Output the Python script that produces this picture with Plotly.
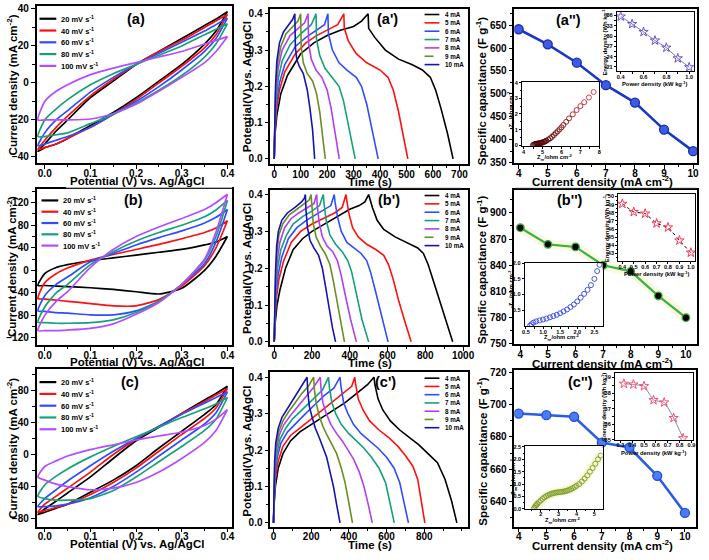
import plotly.graph_objects as go

W, H = 709, 560
FONT = "Liberation Sans"

# ------------------------------------------------------------------ data
SCAN_RATES = ["20", "40", "60", "80", "100"]
CV_COLORS = ["#000000", "#ff1010", "#2f4dff", "#17a07a", "#b44cff"]
E_GRID = [-0.015, 0.0, 0.025, 0.05, 0.1, 0.15, 0.2, 0.25, 0.3, 0.35, 0.375, 0.4]

CV_A_UP = [
    [-37, -33, -26, -20, -8, 1, 10, 17, 24, 31, 34.5, 38.5],
    [-36, -31, -24, -18, -7, 2, 10, 17, 23, 30, 33.5, 37],
    [-34, -27, -20, -15, -5, 3, 10, 16, 22, 28, 31.5, 35],
    [-29, -20, -14, -9, -1, 5, 10, 15, 20, 26, 29, 32],
    [-20, -10, -4.5, -1, 4.5, 8, 11, 14, 17, 21, 23, 25],
]
CV_A_DN = [
    [-37, -35, -33, -30, -23, -16, -8, 1, 10, 21, 28, 38.5],
    [-36, -35, -33, -30, -24, -17, -9, 0, 9, 19, 26, 37],
    [-34, -33, -31, -29, -24, -17, -10, -2, 7, 17, 24, 35],
    [-29, -29, -28, -27, -22, -17, -11, -4, 4, 14, 21, 32],
    [-20, -20, -20, -20, -19.5, -16.5, -11.5, -4.5, 3, 11, 17, 25],
]
CV_B_UP = [
    [-27, -6, 5, 10, 17, 22, 27, 32, 37, 45, 50, 60],
    [-50, -22, -6, 4, 18, 28, 37, 46, 56, 67, 75, 88],
    [-72, -45, -25, -12, 15, 30, 45, 58, 70, 84, 94, 108],
    [-92, -65, -40, -25, 10, 33, 52, 67, 80, 95, 107, 124],
    [-107, -80, -55, -38, 5, 37, 60, 77, 92, 108, 120, 135],
]
CV_B_DN = [
    [-27, -27, -28, -29, -31, -34, -38, -42, -32, 0, 25, 60],
    [-50, -51, -53, -55, -59, -63, -63, -52, -28, 8, 40, 88],
    [-72, -73, -75, -76, -79, -79, -72, -55, -25, 12, 50, 108],
    [-92, -93, -94, -94, -93, -88, -75, -55, -25, 18, 60, 124],
    [-107, -107, -107, -106, -103, -95, -78, -57, -25, 20, 68, 135],
]
CV_C_UP = [
    [-75, -68, -58, -48, -28, -5, 17, 34, 51, 68, 76, 85],
    [-72, -62, -52, -42, -22, 0, 19, 35, 51, 66, 74, 82],
    [-65, -55, -44, -33, -14, 4, 20, 35, 50, 64, 71, 78],
    [-52, -38, -27, -18, -3, 10, 22, 34, 46, 57, 63, 71],
    [-28, -15, -8, -2, 6, 12, 18, 23, 28, 36, 44, 56],
]
CV_C_DN = [
    [-75, -72, -67, -62, -47, -32, -14, 8, 29, 50, 62, 85],
    [-72, -70, -66, -62, -50, -35, -17, 4, 25, 45, 58, 82],
    [-65, -65, -64, -62, -54, -40, -22, -2, 18, 38, 52, 78],
    [-52, -55, -57, -57, -55, -45, -28, -9, 10, 30, 44, 71],
    [-28, -32, -37, -40, -44, -42, -35, -22, -5, 15, 30, 56],
]

CURRENTS = ["4", "5", "6", "7", "8", "9", "10"]
GCD_COLORS = ["#000000", "#ff1010", "#2f4dff", "#15a07a", "#b040f0", "#6b8e23", "#1414b4"]

GCD_A_T = [
    [0, 2, 10, 25, 50, 100, 150, 200, 250, 300, 330, 355, 357, 380, 420, 470, 520, 560, 590, 610, 630, 655, 676],
    [0, 2, 8, 20, 40, 80, 120, 160, 200, 240, 263, 265, 280, 310, 350, 400, 430, 450, 470, 490, 505],
    [0, 2, 8, 20, 40, 80, 120, 160, 190, 203, 205, 220, 245, 275, 310, 330, 350, 370, 393],
    [0, 2, 6, 15, 30, 60, 100, 140, 158, 160, 172, 192, 220, 245, 262, 280, 306],
    [0, 2, 6, 15, 30, 60, 90, 115, 128, 130, 140, 158, 180, 200, 215, 230, 246],
    [0, 2, 5, 12, 25, 45, 70, 90, 100, 102, 110, 125, 145, 160, 172, 182, 193],
    [0, 2, 5, 10, 20, 35, 55, 70, 78, 80, 85, 95, 110, 125, 135, 145, 153],
]
GCD_A_V = [
    [0, 0.06, 0.12, 0.18, 0.23, 0.29, 0.32, 0.34, 0.355, 0.365, 0.38, 0.4, 0.36, 0.335, 0.30, 0.275, 0.26, 0.245, 0.225, 0.19, 0.14, 0.07, 0.0],
    [0, 0.07, 0.13, 0.19, 0.24, 0.29, 0.32, 0.34, 0.355, 0.37, 0.4, 0.36, 0.325, 0.29, 0.265, 0.245, 0.225, 0.19, 0.13, 0.06, 0.0],
    [0, 0.08, 0.15, 0.21, 0.26, 0.31, 0.335, 0.355, 0.37, 0.4, 0.345, 0.3, 0.265, 0.245, 0.225, 0.2, 0.15, 0.08, 0.0],
    [0, 0.08, 0.15, 0.22, 0.27, 0.315, 0.345, 0.37, 0.4, 0.33, 0.285, 0.25, 0.225, 0.2, 0.16, 0.09, 0.0],
    [0, 0.09, 0.17, 0.25, 0.3, 0.34, 0.36, 0.375, 0.4, 0.32, 0.275, 0.245, 0.225, 0.19, 0.14, 0.07, 0.0],
    [0, 0.1, 0.18, 0.26, 0.31, 0.345, 0.365, 0.38, 0.4, 0.31, 0.265, 0.235, 0.215, 0.18, 0.13, 0.07, 0.0],
    [0, 0.11, 0.2, 0.27, 0.32, 0.35, 0.37, 0.385, 0.4, 0.31, 0.275, 0.255, 0.235, 0.19, 0.14, 0.08, 0.0],
]
GCD_B_T = [
    [0, 5, 15, 30, 60, 100, 150, 200, 250, 300, 350, 400, 450, 480, 500, 505, 520, 545, 580, 640, 700, 760, 790, 815, 840, 870, 905, 945],
    [0, 4, 12, 25, 50, 90, 140, 200, 260, 320, 360, 380, 384, 395, 415, 445, 490, 540, 580, 605, 630, 660, 695, 725],
    [0, 4, 10, 20, 40, 75, 120, 170, 220, 270, 300, 318, 322, 335, 355, 385, 420, 460, 490, 510, 540, 570, 603],
    [0, 3, 8, 18, 35, 65, 100, 150, 200, 240, 260, 264, 275, 295, 325, 360, 390, 410, 435, 465, 500],
    [0, 3, 8, 16, 30, 55, 90, 130, 180, 210, 225, 228, 238, 255, 280, 310, 335, 355, 375, 405, 435],
    [0, 3, 7, 14, 25, 45, 80, 120, 160, 185, 195, 198, 207, 222, 245, 270, 295, 315, 335, 355, 372],
    [0, 3, 7, 13, 22, 40, 70, 110, 145, 160, 165, 168, 176, 190, 210, 235, 255, 272, 290, 308, 325],
]
GCD_B_V = [
    [0, 0.05, 0.1, 0.14, 0.2, 0.25, 0.28, 0.3, 0.315, 0.33, 0.345, 0.36, 0.37, 0.38, 0.4, 0.39, 0.365, 0.33, 0.305, 0.285, 0.27, 0.255, 0.24, 0.21, 0.17, 0.12, 0.06, 0.0],
    [0, 0.06, 0.12, 0.17, 0.22, 0.27, 0.3, 0.32, 0.335, 0.35, 0.365, 0.4, 0.385, 0.35, 0.31, 0.285, 0.265, 0.25, 0.235, 0.21, 0.17, 0.11, 0.05, 0.0],
    [0, 0.07, 0.13, 0.18, 0.23, 0.28, 0.31, 0.33, 0.345, 0.36, 0.37, 0.4, 0.38, 0.34, 0.3, 0.27, 0.255, 0.24, 0.22, 0.19, 0.13, 0.07, 0.0],
    [0, 0.07, 0.14, 0.2, 0.25, 0.29, 0.32, 0.34, 0.355, 0.37, 0.4, 0.375, 0.33, 0.29, 0.265, 0.245, 0.22, 0.19, 0.13, 0.06, 0.0],
    [0, 0.08, 0.15, 0.22, 0.27, 0.31, 0.335, 0.35, 0.365, 0.375, 0.4, 0.37, 0.325, 0.285, 0.26, 0.245, 0.22, 0.18, 0.13, 0.06, 0.0],
    [0, 0.09, 0.17, 0.24, 0.29, 0.32, 0.345, 0.36, 0.375, 0.385, 0.4, 0.37, 0.32, 0.285, 0.26, 0.24, 0.21, 0.16, 0.1, 0.04, 0.0],
    [0, 0.1, 0.19, 0.26, 0.3, 0.33, 0.35, 0.365, 0.38, 0.39, 0.4, 0.36, 0.31, 0.275, 0.255, 0.235, 0.2, 0.15, 0.09, 0.04, 0.0],
]
GCD_C_T = [
    [0, 3, 10, 25, 50, 90, 140, 200, 260, 320, 380, 440, 500, 533, 538, 555, 580, 620, 670, 720, 770, 820, 870, 910, 945, 973],
    [0, 3, 10, 25, 50, 90, 140, 200, 260, 320, 380, 415, 431, 436, 450, 475, 510, 560, 610, 660, 700, 740, 765, 785, 803],
    [0, 3, 8, 20, 40, 75, 120, 170, 220, 270, 320, 353, 358, 372, 395, 425, 465, 510, 555, 600, 640, 670, 695, 716],
    [0, 3, 8, 18, 35, 65, 100, 140, 180, 220, 260, 292, 297, 310, 330, 360, 400, 440, 480, 520, 560, 595, 620, 641],
    [0, 3, 7, 15, 30, 55, 90, 130, 170, 210, 248, 252, 262, 280, 305, 335, 365, 395, 425, 455, 480, 503, 524],
    [0, 3, 7, 14, 28, 50, 80, 115, 150, 185, 213, 217, 226, 242, 262, 285, 310, 335, 360, 380, 398, 419],
    [0, 3, 6, 12, 25, 45, 70, 100, 130, 160, 178, 182, 190, 205, 222, 242, 262, 282, 300, 318, 335, 353],
]
GCD_C_V = [
    [0, 0.05, 0.1, 0.15, 0.19, 0.225, 0.25, 0.27, 0.29, 0.31, 0.33, 0.355, 0.38, 0.4, 0.38, 0.34, 0.31, 0.28, 0.255, 0.235, 0.215, 0.19, 0.165, 0.12, 0.06, 0.0],
    [0, 0.06, 0.12, 0.17, 0.21, 0.24, 0.26, 0.285, 0.31, 0.335, 0.36, 0.375, 0.4, 0.38, 0.34, 0.31, 0.28, 0.255, 0.235, 0.21, 0.185, 0.155, 0.12, 0.06, 0.0],
    [0, 0.07, 0.13, 0.18, 0.22, 0.25, 0.275, 0.3, 0.325, 0.35, 0.37, 0.4, 0.375, 0.33, 0.3, 0.27, 0.245, 0.225, 0.205, 0.18, 0.15, 0.11, 0.05, 0.0],
    [0, 0.08, 0.14, 0.19, 0.23, 0.26, 0.285, 0.305, 0.325, 0.345, 0.365, 0.4, 0.37, 0.33, 0.3, 0.27, 0.245, 0.225, 0.205, 0.18, 0.15, 0.11, 0.05, 0.0],
    [0, 0.08, 0.15, 0.2, 0.24, 0.27, 0.295, 0.32, 0.345, 0.37, 0.4, 0.37, 0.33, 0.3, 0.27, 0.245, 0.225, 0.2, 0.175, 0.14, 0.1, 0.05, 0.0],
    [0, 0.09, 0.16, 0.21, 0.25, 0.28, 0.305, 0.33, 0.355, 0.375, 0.4, 0.365, 0.33, 0.295, 0.265, 0.24, 0.215, 0.19, 0.15, 0.11, 0.06, 0.0],
    [0, 0.1, 0.17, 0.22, 0.26, 0.29, 0.31, 0.335, 0.36, 0.385, 0.4, 0.36, 0.32, 0.29, 0.26, 0.235, 0.21, 0.18, 0.14, 0.1, 0.05, 0.0],
]

CURRENT_DENSITY = [4, 5, 6, 7, 8, 9, 10]
CAP_A = [641, 608, 568, 519, 481, 422, 375]
CAP_B = [883, 864, 861, 840, 833, 805, 780]
CAP_C = [694.5, 693.5, 692.5, 676.5, 673.5, 656, 633]

POWER_A = [0.4, 0.5, 0.6, 0.7, 0.8, 0.9, 1.0]
ENERGY_A = [35.7, 33.5, 31.2, 28.7, 26.6, 23.5, 20.9]
POWER_B = [0.4, 0.5, 0.6, 0.7, 0.8, 0.9, 1.0]
ENERGY_B = [49.1, 48.1, 47.9, 46.7, 46.2, 44.6, 43.1]
POWER_C = [0.33, 0.41, 0.5, 0.58, 0.67, 0.75, 0.83]
ENERGY_C = [38.6, 38.55, 38.45, 37.55, 37.4, 36.4, 35.1]

ZRE_A = [4.5, 4.55, 4.6, 4.65, 4.7, 4.75, 4.8, 4.85, 4.9, 4.95, 5.0, 5.05, 5.1, 5.15, 5.2, 5.3, 5.4, 5.5, 5.6,
         5.7, 5.8, 5.9, 6.0, 6.1, 6.25, 6.4, 6.6, 6.8, 7.0, 7.2, 7.45, 7.7]
ZIM_A = [0.03, 0.06, 0.08, 0.1, 0.11, 0.12, 0.13, 0.14, 0.15, 0.17, 0.19, 0.21, 0.24, 0.27, 0.3, 0.37, 0.45, 0.55,
         0.66, 0.78, 0.9, 1.02, 1.15, 1.3, 1.5, 1.72, 1.98, 2.25, 2.5, 2.75, 3.05, 3.4]
ZRE_B = [0.62, 0.66, 0.72, 0.8, 0.9, 1.0, 1.1, 1.2, 1.3, 1.4, 1.5, 1.6, 1.7, 1.8, 1.9, 2.0, 2.1, 2.2, 2.3, 2.4,
         2.5, 2.58, 2.65]
ZIM_B = [0.0, 0.05, 0.1, 0.14, 0.17, 0.2, 0.23, 0.27, 0.31, 0.35, 0.4, 0.46, 0.52, 0.6, 0.68, 0.78, 0.9, 1.02,
         1.15, 1.3, 1.5, 1.75, 1.95]
ZRE_C = [1.6, 1.65, 1.7, 1.75, 1.8, 1.9, 2.0, 2.1, 2.2, 2.3, 2.4, 2.5, 2.6, 2.7, 2.8, 2.9, 3.0, 3.1, 3.2, 3.3,
         3.4, 3.5, 3.6, 3.7, 3.8, 3.9, 4.0, 4.15, 4.3, 4.45, 4.6, 4.75, 4.9, 5.05, 5.2, 5.35]
ZIM_C = [0.0, 0.05, 0.1, 0.15, 0.2, 0.27, 0.34, 0.4, 0.46, 0.51, 0.55, 0.58, 0.61, 0.63, 0.65, 0.66, 0.67, 0.68,
         0.69, 0.7, 0.72, 0.74, 0.77, 0.8, 0.84, 0.88, 0.93, 1.0, 1.1, 1.22, 1.35, 1.5, 1.65, 1.82, 2.0, 2.15]

# ------------------------------------------------------------------ helpers
fig = go.Figure()
AX = {}
SHAPES = []
ANNS = []


def rng(pa, va, pb, vb, e0, e1):
    k = (vb - va) / (pb - pa)
    return [va + (e0 - pa) * k, va + (e1 - pa) * k]


def tk(dtick=None, minor=None, tick0=0, vals=None, fmt=None, small=False):
    d = {}
    if vals is not None:
        d["tickvals"] = vals
    else:
        d["tick0"] = tick0
        d["dtick"] = dtick
    if fmt:
        d["tickformat"] = fmt
    if minor is not None:
        d["minor"] = dict(dtick=minor, tick0=tick0, ticks="outside", ticklen=1.5 if small else 2.5,
                          tickcolor="black", tickwidth=0.8 if small else 1.1)
    return d


def make_axes(i, xbox, ybox, xcal, ycal, xt, yt, small=False):
    s = "" if i == 1 else str(i)
    fs = 5.6 if small else 10
    lw = 0.9 if small else 1.5
    tl = 2 if small else 4
    base = dict(showline=True, mirror=True, linecolor="black", linewidth=lw,
                ticks="outside", ticklen=tl, tickwidth=lw * 0.8, tickcolor="black",
                showgrid=False, zeroline=False, fixedrange=True,
                tickfont=dict(family=FONT, size=fs, color="black", weight="bold"))
    xa = dict(base, domain=[xbox[0] / W, xbox[1] / W], range=rng(*xcal, xbox[0], xbox[1]),
              anchor="y" + s, ticklabelstandoff=(-2 if small else -4), **xt)
    ya = dict(base, domain=[1 - ybox[1] / H, 1 - ybox[0] / H], range=rng(*ycal, ybox[1], ybox[0]),
              anchor="x" + s, **yt)
    AX["xaxis" + s] = xa
    AX["yaxis" + s] = ya
    return "x" + s, "y" + s


def ann(text, x, y, size, angle=0, xanchor="center", color="black"):
    ANNS.append(dict(text=text, x=x / W, y=1 - y / H, xref="paper", yref="paper", showarrow=False,
                     xanchor=xanchor, yanchor="middle", textangle=angle,
                     font=dict(family=FONT, size=size, color=color, weight="bold")))


def leg_line(x0, x1, y, color, dash="solid", width=2):
    SHAPES.append(dict(type="line", xref="paper", yref="paper", x0=x0 / W, x1=x1 / W,
                       y0=1 - y / H, y1=1 - y / H, line=dict(color=color, width=width, dash=dash)))


def cv_panel(xa, ya, ups, dns):
    for k in range(len(ups)):
        xs = E_GRID + E_GRID[::-1]
        ys = ups[k] + dns[k][::-1]
        fig.add_trace(go.Scatter(x=xs, y=ys, xaxis=xa, yaxis=ya, mode="lines", hoverinfo="skip",
                                 showlegend=False,
                                 line=dict(color=CV_COLORS[k], width=1.7, shape="spline", smoothing=0.6)))


def gcd_panel(xa, ya, ts, vs):
    for k in range(len(ts)):
        fig.add_trace(go.Scatter(x=ts[k], y=vs[k], xaxis=xa, yaxis=ya, mode="lines", hoverinfo="skip",
                                 showlegend=False, line=dict(color=GCD_COLORS[k], width=1.6)))


def cv_legend(x0, x1, ytop, step):
    for k, r in enumerate(SCAN_RATES):
        y = ytop + k * step
        leg_line(x0, x1, y, CV_COLORS[k], width=2.2)
        ann(r + " mV s<sup>-1</sup>", x1 + 3, y, 7.5, xanchor="left")


def gcd_legend(x0, x1, ytop, step):
    for k, c in enumerate(CURRENTS):
        y = ytop + k * step
        leg_line(x0, x1, y, GCD_COLORS[k], dash="dash" if k == 5 else "solid", width=1.6)
        ann(c + " mA", x1 + 4, y, 6.3, xanchor="left")


def cap_panel(xa, ya, caps, color, mcolor, mline, msize, lw, halo=False):
    if halo:
        fig.add_trace(go.Scatter(x=CURRENT_DENSITY, y=caps, xaxis=xa, yaxis=ya, mode="lines",
                                 hoverinfo="skip", showlegend=False,
                                 line=dict(color="rgba(242,242,185,0.4)", width=10)))
    fig.add_trace(go.Scatter(x=CURRENT_DENSITY, y=caps, xaxis=xa, yaxis=ya, mode="lines+markers",
                             hoverinfo="skip", showlegend=False, line=dict(color=color, width=lw),
                             marker=dict(size=msize, color=mcolor, line=dict(color=mline, width=1.3))))


def energy_inset(xa, ya, p, e, line_color, star_color, dash="solid"):
    fig.add_trace(go.Scatter(x=p, y=e, xaxis=xa, yaxis=ya, mode="lines+markers", hoverinfo="skip",
                             showlegend=False,
                             line=dict(color=line_color, width=1, dash=dash, shape="spline", smoothing=0.4),
                             marker=dict(symbol="star-open", size=7, color=star_color,
                                         line=dict(width=1, color=star_color))))


def nyquist_inset(xa, ya, zr, zi, color=None, scale=None, halo=False):
    if halo:
        fig.add_trace(go.Scatter(x=zr, y=zi, xaxis=xa, yaxis=ya, mode="lines", hoverinfo="skip",
                                 showlegend=False, line=dict(color="rgba(240,240,170,0.6)", width=9)))
    if scale:
        mk = dict(symbol="circle-open", size=5, color=zi, colorscale=scale, cmin=0, cmax=max(zi),
                  line=dict(width=0.9))
    else:
        mk = dict(symbol="circle-open", size=5, color=color, line=dict(width=0.9, color=color))
    fig.add_trace(go.Scatter(x=zr, y=zi, xaxis=xa, yaxis=ya, mode="markers", hoverinfo="skip",
                             showlegend=False, marker=mk))


SUP2 = "<sup>-2</sup>"
SUP1 = "<sup>-1</sup>"

# ------------------------------------------------------------------ ROW 1
xa, ya = make_axes(1, (35, 233), (2, 162), (43.3, 0.0, 228.3, 0.4), (5, 40, 155.7, -40),
                   tk(0.1, 0.05, fmt=".1f"), tk(20, 10))
cv_panel(xa, ya, CV_A_UP, CV_A_DN)
cv_legend(38, 55, 15, 12)
ann("(a)", 136, 15, 14.5)
ann("Current density (mA cm" + SUP2 + ")", 10, 82, 11.5, angle=-90)
ann("Potential (V) vs. Ag/AgCl", 137, 180, 11.5)

xa, ya = make_axes(2, (271.7, 472), (5, 163), (275.7, 0, 463.3, 700), (10, 0.4, 157.7, 0.0),
                   tk(100, 50), tk(0.1, 0.05, fmt=".1f"))
gcd_panel(xa, ya, GCD_A_T, GCD_A_V)
gcd_legend(428, 443, 10.7, 8.5)
ann("(a')", 390, 15, 14.5)
ann("Potential(V) vs. Ag/AgCl", 248, 84, 11.5, angle=-90)
ann("Time (s)", 373, 181, 11.5)

xa, ya = make_axes(3, (519, 704), (5, 162), (523.3, 4, 700, 10), (21.5, 650, 161.5, 350),
                   tk(1, 0.5), tk(50, 25))
cap_panel(xa, ya, CAP_A, "#1b36c8", "#3d5ae8", "#1a2fa8", 9, 2.6)
ann("(a'')", 574, 16, 14.5)
ann("Specific capacitance (F g" + SUP1 + ")", 486, 88, 11.5, angle=-90)
ann("Current density (mA cm" + SUP2 + ")", 608, 180, 11.5)

xa, ya = make_axes(4, (622.7, 700.7), (8.3, 68.3), (626.7, 0.4, 696, 1.0), (11.7, 36, 64, 21),
                   tk(0.2, 0.1, tick0=0, fmt=".1f", small=True), tk(3, 1.5, small=True), small=True)
energy_inset(xa, ya, POWER_A, ENERGY_A, "#5a82a8", "#7050d8")
ann("Power density (kW kg" + SUP1 + ")", 661, 80.5, 5.8)
ann("Energy density (Wh kg" + SUP1 + ")", 610, 38, 5.8, angle=-90)

xa, ya = make_axes(5, (526.7, 605), (79, 145), (528.3, 4, 605, 8), (80, 4, 144, 0),
                   tk(1, 0.5, small=True), tk(1, 0.5, small=True), small=True)
nyquist_inset(xa, ya, ZRE_A, ZIM_A, scale=[[0, "#4a0000"], [1, "#e8303c"]])
ann("Z<sub>re</sub>/ohm cm" + SUP2, 560, 156.5, 5.8)
ann("-Z<sub>im</sub>/ohm cm" + SUP2, 515, 108, 5.8, angle=-90)

# ------------------------------------------------------------------ ROW 2
xa, ya = make_axes(6, (35, 233), (188, 347), (43.3, 0.0, 228.3, 0.4), (202.3, 120, 340, -120),
                   tk(0.1, 0.05, fmt=".1f"), tk(40, 20))
cv_panel(xa, ya, CV_B_UP, CV_B_DN)
cv_legend(40, 57, 200, 11.5)
ann("(b)", 133, 200, 14.5)
ann("Current density (mA cm" + SUP2 + ")", 10, 267, 11.5, angle=-90)
ann("Potential (V) vs. Ag/AgCl", 137, 365, 11.5)

xa, ya = make_axes(7, (271.7, 472), (189, 347), (275.7, 0, 467, 1000), (194, 0.4, 344, 0.0),
                   tk(200, 100), tk(0.1, 0.05, fmt=".1f"))
gcd_panel(xa, ya, GCD_B_T, GCD_B_V)
gcd_legend(428, 443, 195, 8.5)
ann("(b')", 392, 200, 14.5)
ann("Potential(V) vs. Ag/AgCl", 248, 269, 11.5, angle=-90)
ann("Time (s)", 373, 366, 11.5)

xa, ya = make_axes(8, (519, 704), (189, 346), (525, 4, 692.7, 10), (212.7, 900, 346, 750),
                   tk(1, 0.5), tk(30, 15))
cap_panel(xa, ya, CAP_B, "#3cb043", "#000000", "#3cb043", 7.5, 2.2, halo=True)
ann("(b'')", 575, 200, 14.5)
ann("Specific capacitance (F g" + SUP1 + ")", 486, 270, 11.5, angle=-90)
ann("Current density (mA cm" + SUP2 + ")", 608, 366, 11.5)

xa, ya = make_axes(9, (624, 702.3), (193.3, 262), (628.3, 0.4, 697.7, 1.0), (196, 50, 254, 43),
                   tk(0.1, None, fmt=".1f", small=True), tk(1, 0.5, small=True), small=True)
energy_inset(xa, ya, POWER_B, ENERGY_B, "#000000", "#ff3355", dash="dot")
ann("Power density (kW kg" + SUP1 + ")", 663, 274, 5.8)
ann("Energy density (Wh kg" + SUP1 + ")", 612, 228, 5.8, angle=-90)

xa, ya = make_axes(10, (529.3, 608.3), (264, 328.3), (530.7, 0.5, 600, 2.5), (264, 2.0, 311.7, 0.5),
                   tk(0.5, 0.25, fmt=".1f", small=True),
                   tk(vals=[0.5, 1.0, 1.5, 2.0], fmt=".1f", small=True), small=True)
nyquist_inset(xa, ya, ZRE_B, ZIM_B, color="#3346e0")
ann("Z<sub>re</sub>/ohm cm" + SUP2, 567, 340, 5.8)
ann("-Z<sub>im</sub>/ohm cm" + SUP2, 516, 290, 5.8, angle=-90)

# ------------------------------------------------------------------ ROW 3
xa, ya = make_axes(11, (35, 233), (372, 532), (43.3, 0.0, 228.3, 0.4), (393.3, 80, 524, -80),
                   tk(0.1, 0.05, fmt=".1f"), tk(40, 20))
cv_panel(xa, ya, CV_C_UP, CV_C_DN)
cv_legend(38, 55, 385, 12)
ann("(c)", 130, 385, 14.5)
ann("Current density (mA cm" + SUP2 + ")", 10, 452, 11.5, angle=-90)
ann("Potential (V) vs. Ag/AgCl", 137, 550, 11.5)

xa, ya = make_axes(12, (271.7, 472), (375, 532), (275, 0, 427.7, 800), (380, 0.4, 528.3, 0.0),
                   tk(vals=[0, 200, 400, 600, 800]), tk(0.1, 0.05, fmt=".1f"))
AX["xaxis12"]["minor"] = dict(dtick=100, tick0=0, ticks="outside", ticklen=2.5, tickcolor="black", tickwidth=1.1)
gcd_panel(xa, ya, GCD_C_T, GCD_C_V)
gcd_legend(428, 443, 381, 8.4)
ann("(c')", 388, 385, 14.5)
ann("Potential(V) vs. Ag/AgCl", 248, 455, 11.5, angle=-90)
ann("Time (s)", 373, 551, 11.5)

xa, ya = make_axes(13, (519, 703), (373, 532), (523.3, 4, 691.7, 10), (375, 720, 506.7, 640),
                   tk(1, 0.5), tk(20, 10))
cap_panel(xa, ya, CAP_C, "#2a5ce6", "#4a7cf5", "#2250d0", 9, 2.6)
ann("(c'')", 586, 385, 14.5)
ann("Specific capacitance (F g" + SUP1 + ")", 486, 455, 11.5, angle=-90)
ann("Current density (mA cm" + SUP2 + ")", 608, 551, 11.5)

xa, ya = make_axes(14, (620.7, 700), (376, 443.7), (638.3, 0.4, 698.3, 0.9), (380.3, 39, 443.7, 35),
                   tk(0.1, None, fmt=".1f", small=True), tk(1, 0.5, small=True), small=True)
energy_inset(xa, ya, POWER_C, ENERGY_C, "#6f8fc0", "#ff4d6d")
ann("Power density (kW kg" + SUP1 + ")", 660, 457, 5.8)
ann("Energy density (Wh kg" + SUP1 + ")", 609, 410, 5.8, angle=-90)

xa, ya = make_axes(15, (530, 608.3), (450, 514), (545.7, 2, 600, 5), (451, 2.5, 514, 0.0),
                   tk(1, 0.5, small=True), tk(0.5, 0.25, fmt=".1f", small=True), small=True)
nyquist_inset(xa, ya, ZRE_C, ZIM_C, color="#7c9c2c", halo=True)
ann("Z<sub>re</sub>/ohm cm" + SUP2, 568, 526, 5.8)
ann("-Z<sub>im</sub>/ohm cm" + SUP2, 518, 482, 5.8, angle=-90)

# light separator lines under the first row
for (x0, x1) in [(65, 233), (283, 465), (520, 703)]:
    SHAPES.append(dict(type="line", xref="paper", yref="paper", x0=x0 / W, x1=x1 / W,
                       y0=1 - 187 / H, y1=1 - 187 / H, line=dict(color="#d8d8d8", width=1)))

fig.update_layout(AX)
fig.update_layout(width=W, height=H, autosize=False, margin=dict(l=0, r=0, t=0, b=0),
                  paper_bgcolor="white", plot_bgcolor="white", showlegend=False,
                  shapes=SHAPES, annotations=ANNS,
                  font=dict(family=FONT, color="black"))
fig.write_html("out.html", config={"displayModeBar": False},
               post_script="document.body.style.margin='0px';document.body.style.overflow='hidden';")
